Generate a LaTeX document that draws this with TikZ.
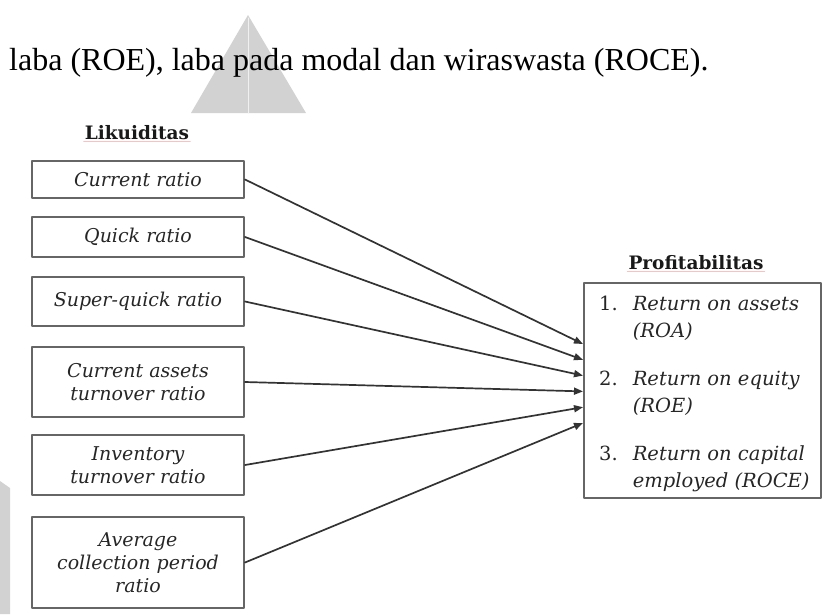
\documentclass[tikz,border=0pt]{standalone}
\usepackage{fontspec}
\setmainfont{Liberation Serif}
\newfontfamily\serifkotak{DejaVu Serif}
\usetikzlibrary{arrows.meta}

\begin{document}
\begin{tikzpicture}[x=1pt,y=-1pt,line cap=round,line join=round,>={Triangle[length=9pt,width=7pt]},every node/.style={inner sep=1pt},
  rasio/.style={draw=black!60,line width=2pt,text=black!85,minimum width=212pt,align=center,font=\serifkotak\itshape\fontsize{19}{23}\selectfont},
  judul/.style={text=black!90,font=\serifkotak\bfseries\fontsize{18.5}{22}\selectfont}]
  \useasboundingbox (0,0) rectangle (823,614);
  % watermark
  \fill[gray!35] (248,15) -- (306,113) -- (191,113) -- cycle;
  \draw[gray!12,line width=1pt] (248,18) -- (248,113);
  \fill[gray!35] (0,481) -- (10,488) -- (10,614) -- (0,614) -- cycle;
  \node[anchor=base west,font=\fontsize{32}{38}\selectfont] (kalimat) at (8,70) {laba (ROE), laba pada modal dan wiraswasta (ROCE).};
  % judul
  \node[judul] (likuiditas) at (137,133) {Likuiditas};
  \node[judul] (profitabilitas) at (696,263) {Profitabilitas};
  \draw[red!25,line width=0.8pt] (likuiditas.south west) -- (likuiditas.south east);
  \draw[red!25,line width=0.8pt] (profitabilitas.south west) -- (profitabilitas.south east);
  % rasio likuiditas
  \node[rasio,minimum height=37pt] (rasio1) at (138,179.5) {Current ratio};
  \node[rasio,minimum height=40pt] (rasio2) at (138,237) {Quick ratio};
  \node[rasio,minimum height=49pt] (rasio3) at (138,301.5) {Super-quick ratio};
  \node[rasio,minimum height=70pt] (rasio4) at (138,382) {Current assets\\turnover ratio};
  \node[rasio,minimum height=60pt] (rasio5) at (138,465) {Inventory\\turnover ratio};
  \node[rasio,minimum height=91pt] (rasio6) at (138,562.5) {Average\\collection period\\ratio};
  % profitabilitas
  \node[draw=black!60,line width=2pt,minimum width=237pt,minimum height=215pt] (profit) at (702.5,390.5) {};
  \node[anchor=north west,text=black!85,font=\serifkotak\fontsize{19.5}{27}\selectfont] (daftar) at (598,290) {%
    \begin{tabular}{@{}l@{\hspace{15pt}}l@{}}
      1. & \textit{Return on assets}\\
         & \textit{(ROA)}\\[21pt]
      2. & \textit{Return on equity}\\
         & \textit{(ROE)}\\[21pt]
      3. & \textit{Return on capital}\\
         & \textit{employed (ROCE)}
    \end{tabular}};
  \foreach \i in {1,...,6}{
    \coordinate (ujung\i) at (583,{344+15.8*(\i-1)});
    \draw[->,line width=1.7pt,black!80] (rasio\i.east) -- (ujung\i);
  }
\end{tikzpicture}
\end{document}
